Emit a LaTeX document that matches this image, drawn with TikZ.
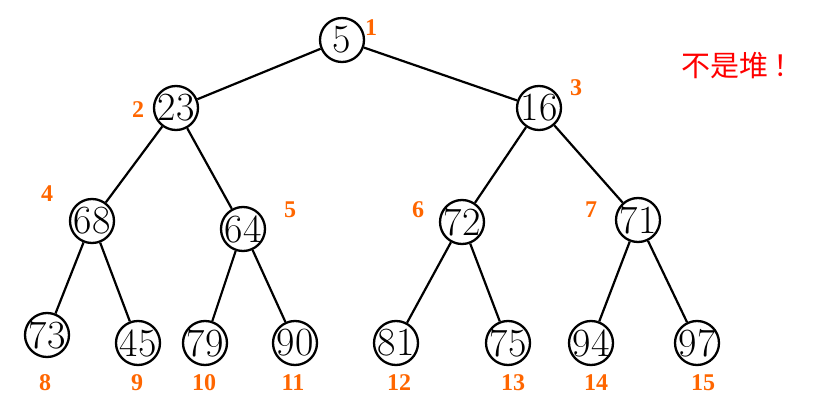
\documentclass[tikz,border=0pt]{standalone}
\usepackage{fontspec}
\newfontfamily\cjk{Noto Sans CJK SC}
\newfontfamily\labfont{Liberation Serif}
\definecolor{idx}{HTML}{FF6600}
\begin{document}
\begin{tikzpicture}[x=1pt,y=-1pt,
  nd/.style={circle,draw,line width=2.3pt,minimum size=44pt,inner sep=0pt,
    label={[font=\fontsize{40}{40}\selectfont,inner sep=0pt]center:#1}},
  idxlab/.style={font=\labfont\bfseries\fontsize{24}{24}\selectfont,text=idx,inner sep=0pt},
  edge/.style={line width=2.2pt}]
\useasboundingbox (0,0) rectangle (835,414);
\node[nd=5]  (n1)  at (342,40) {};
\node[nd=23] (n2)  at (176,108) {};
\node[nd=16] (n3)  at (539,108) {};
\node[nd=68] (n4)  at (92,221) {};
\node[nd=64] (n5)  at (243,229) {};
\node[nd=72] (n6)  at (462,222) {};
\node[nd=71] (n7)  at (638,220) {};
\node[nd=73] (n8)  at (47,335) {};
\node[nd=45] (n9)  at (138,343) {};
\node[nd=79] (n10) at (205,343) {};
\node[nd=90] (n11) at (295,343) {};
\node[nd=81] (n12) at (396,343) {};
\node[nd=75] (n13) at (508,343) {};
\node[nd=94] (n14) at (591,343) {};
\node[nd=97] (n15) at (697,343) {};
\foreach \a/\b in {n1/n2,n1/n3,n2/n4,n2/n5,n3/n6,n3/n7,n4/n8,n4/n9,n5/n10,n5/n11,n6/n12,n6/n13,n7/n14,n7/n15}
  \draw[edge] (\a) -- (\b);
\node[idxlab] (l1) at (371,28) {1};
\node[idxlab] (l2) at (138,110) {2};
\node[idxlab] (l3) at (576,88) {3};
\node[idxlab] (l4) at (47,194) {4};
\node[idxlab] (l5) at (290,210) {5};
\node[idxlab] (l6) at (418,210) {6};
\node[idxlab] (l7) at (591,210) {7};
\node[idxlab] (l8) at (45,383) {8};
\node[idxlab] (l9) at (137,383) {9};
\node[idxlab] (l10) at (204,383) {10};
\node[idxlab] (l11) at (293,383) {11};
\node[idxlab] (l12) at (399,383) {12};
\node[idxlab] (l13) at (513,383) {13};
\node[idxlab] (l14) at (596,383) {14};
\node[idxlab] (l15) at (703,383) {15};
\node[font=\cjk\fontsize{29}{29}\selectfont,text=red,inner sep=0pt] (note) at (742,66) {不是堆\,！};
\end{tikzpicture}
\end{document}
